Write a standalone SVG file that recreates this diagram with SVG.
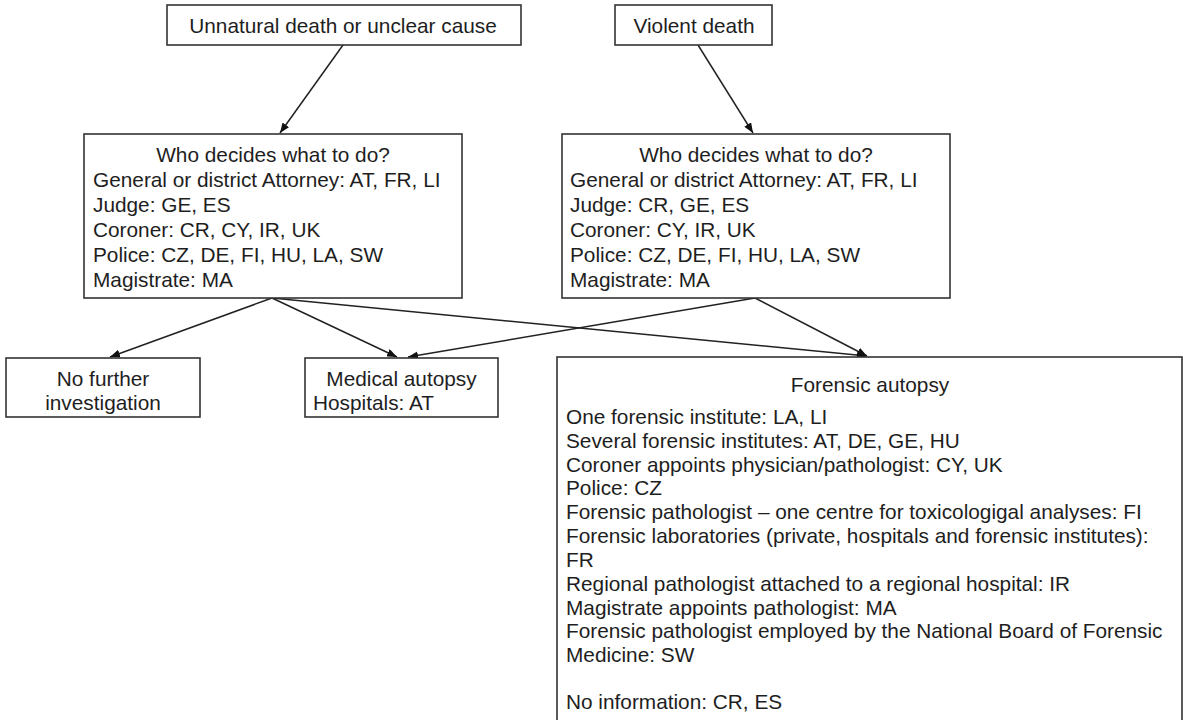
<svg xmlns="http://www.w3.org/2000/svg" width="1183" height="720" viewBox="0 0 1183 720">
<defs>
<style>
.box{fill:#ffffff;stroke:#333333;stroke-width:1.6}
.t{font-family:"Liberation Sans",Arial,sans-serif;font-size:20.8px;fill:#1e1e1e}
.c{text-anchor:middle}
.edge{stroke:#222222;stroke-width:1.5;fill:none;marker-end:url(#ah)}
</style>
<marker id="ah" viewBox="0 0 10 8" refX="10" refY="4" markerWidth="10" markerHeight="8" markerUnits="userSpaceOnUse" orient="auto">
<path d="M0,0 L10,4 L0,8 Z" fill="#111111"/>
</marker>
</defs>
<rect width="1183" height="720" fill="#ffffff"/>
<g id="connectors">
<line class="edge" x1="343" y1="45" x2="280" y2="133"/>
<line class="edge" x1="698" y1="45" x2="753" y2="133"/>
<line class="edge" x1="272" y1="298" x2="110" y2="357"/>
<line class="edge" x1="272" y1="298" x2="397" y2="357"/>
<line class="edge" x1="272" y1="298" x2="867" y2="356"/>
<line class="edge" x1="755" y1="298" x2="408" y2="357"/>
<line class="edge" x1="755" y1="298" x2="867" y2="356"/>
</g>
<g id="n-unnatural">
<rect class="box" x="167" y="5" width="354" height="40"/>
<text class="t c" x="343" y="33">Unnatural death or unclear cause</text>
</g>
<g id="n-violent">
<rect class="box" x="615" y="5" width="157" height="40"/>
<text class="t c" x="694" y="33">Violent death</text>
</g>
<g id="n-who1">
<rect class="box" x="84" y="134" width="378" height="164"/>
<text class="t c" x="273" y="162">Who decides what to do?</text>
<text class="t" x="93" y="187">General or district Attorney: AT, FR, LI</text>
<text class="t" x="93" y="212">Judge: GE, ES</text>
<text class="t" x="93" y="237">Coroner: CR, CY, IR, UK</text>
<text class="t" x="93" y="262">Police: CZ, DE, FI, HU, LA, SW</text>
<text class="t" x="93" y="287">Magistrate: MA</text>
</g>
<g id="n-who2">
<rect class="box" x="562" y="134" width="388" height="164"/>
<text class="t c" x="756" y="162">Who decides what to do?</text>
<text class="t" x="570" y="187">General or district Attorney: AT, FR, LI</text>
<text class="t" x="570" y="212">Judge: CR, GE, ES</text>
<text class="t" x="570" y="237">Coroner: CY, IR, UK</text>
<text class="t" x="570" y="262">Police: CZ, DE, FI, HU, LA, SW</text>
<text class="t" x="570" y="287">Magistrate: MA</text>
</g>
<g id="n-nofurther">
<rect class="box" x="6" y="358" width="194" height="59"/>
<text class="t c" x="103" y="386">No further</text>
<text class="t c" x="103" y="410">investigation</text>
</g>
<g id="n-medical">
<rect class="box" x="305" y="358" width="193" height="59"/>
<text class="t c" x="401.5" y="386">Medical autopsy</text>
<text class="t" x="313" y="410">Hospitals: AT</text>
</g>
<g id="n-forensic">
<rect class="box" x="557" y="357" width="625" height="380"/>
<text class="t c" x="870" y="392">Forensic autopsy</text>
<text class="t" x="566" y="424">One forensic institute: LA, LI</text>
<text class="t" x="566" y="448">Several forensic institutes: AT, DE, GE, HU</text>
<text class="t" x="566" y="472">Coroner appoints physician/pathologist: CY, UK</text>
<text class="t" x="566" y="495">Police: CZ</text>
<text class="t" x="566" y="519">Forensic pathologist – one centre for toxicologigal analyses: FI</text>
<text class="t" x="566" y="543">Forensic laboratories (private, hospitals and forensic institutes):</text>
<text class="t" x="566" y="567">FR</text>
<text class="t" x="566" y="591">Regional pathologist attached to a regional hospital: IR</text>
<text class="t" x="566" y="615">Magistrate appoints pathologist: MA</text>
<text class="t" x="566" y="638">Forensic pathologist employed by the National Board of Forensic</text>
<text class="t" x="566" y="662">Medicine: SW</text>
<text class="t" x="566" y="709">No information: CR, ES</text>
</g>
</svg>
